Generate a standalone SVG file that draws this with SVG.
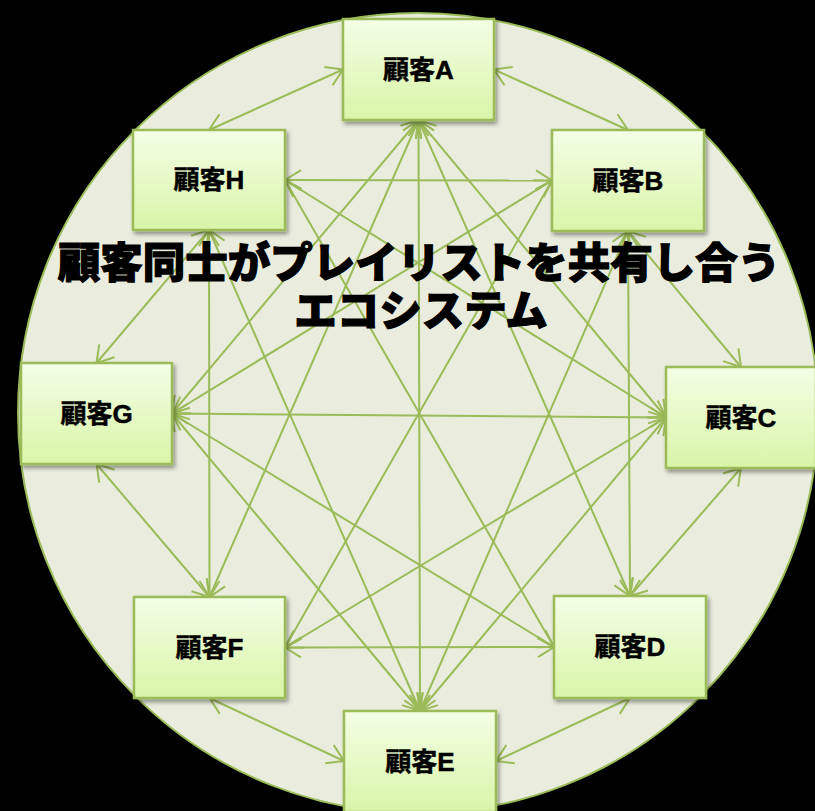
<svg xmlns="http://www.w3.org/2000/svg" width="815" height="811" viewBox="0 0 815 811">
<defs>
<linearGradient id="boxGrad" x1="0" y1="0" x2="0" y2="1">
<stop offset="0" stop-color="#f4fee6"/>
<stop offset="1" stop-color="#d8f5a7"/>
</linearGradient>
<filter id="shadow" x="-10%" y="-10%" width="130%" height="130%">
<feDropShadow dx="2" dy="3" stdDeviation="2" flood-color="#000" flood-opacity="0.4"/>
</filter>
<marker id="arr" viewBox="-18 -12 20 24" refX="0" refY="0" markerWidth="20" markerHeight="24" markerUnits="userSpaceOnUse" orient="auto-start-reverse">
<path d="M-16,-10 L0,0 L-16,10" fill="none" stroke="#9bbb59" stroke-width="2"/>
</marker>
</defs>
<style>
.bg{fill:#000}
.eco{fill:#eaedde;stroke:#9bbb59;stroke-width:2}
.box{fill:url(#boxGrad);stroke:#9bbb59;stroke-width:2.5;filter:url(#shadow)}
.lbl{font-family:"Liberation Sans","Noto Sans CJK JP",sans-serif;font-weight:bold;font-size:26px;fill:#000;stroke:#000;stroke-width:0.5;text-anchor:middle}
.title{font-family:"Noto Sans CJK JP",sans-serif;font-weight:900;font-size:42.5px;fill:#000;stroke:#000;stroke-width:1.2;text-anchor:middle}
#connectors line{stroke:#9bbb59;stroke-width:2;marker-start:url(#arr);marker-end:url(#arr)}
</style>
<rect class="bg" x="0" y="0" width="815" height="811"/>
<circle class="eco" cx="418" cy="413" r="400"/>
<g id="connectors">
<line x1="494" y1="69.5" x2="628" y2="130"/>
<line x1="343" y1="69.5" x2="209" y2="130"/>
<line x1="628" y1="231" x2="741" y2="367"/>
<line x1="209" y1="230" x2="96.5" y2="363"/>
<line x1="741" y1="468" x2="630" y2="596"/>
<line x1="96.5" y1="464" x2="209.5" y2="597"/>
<line x1="630" y1="698" x2="496" y2="761"/>
<line x1="209.5" y1="698" x2="344" y2="761"/>
<line x1="285" y1="180" x2="552" y2="180.5"/>
<line x1="285" y1="647.5" x2="554" y2="647"/>
<line x1="209" y1="230" x2="209.5" y2="597"/>
<line x1="628" y1="231" x2="630" y2="596"/>
<line x1="418.5" y1="120" x2="420" y2="711"/>
<line x1="172" y1="413.5" x2="666" y2="417.5"/>
<line x1="418.5" y1="120" x2="666" y2="417.5"/>
<line x1="418.5" y1="120" x2="172" y2="413.5"/>
<line x1="418.5" y1="120" x2="630" y2="596"/>
<line x1="418.5" y1="120" x2="209.5" y2="597"/>
<line x1="420" y1="711" x2="666" y2="417.5"/>
<line x1="420" y1="711" x2="172" y2="413.5"/>
<line x1="420" y1="711" x2="209" y2="230"/>
<line x1="420" y1="711" x2="628" y2="231"/>
<line x1="285" y1="180" x2="666" y2="417.5"/>
<line x1="285" y1="180" x2="554" y2="647"/>
<line x1="552" y1="180.5" x2="172" y2="413.5"/>
<line x1="552" y1="180.5" x2="285" y2="647.5"/>
<line x1="172" y1="413.5" x2="554" y2="647"/>
<line x1="666" y1="417.5" x2="285" y2="647.5"/>
</g>
<g id="nodeA"><rect class="box" x="343" y="19" width="151" height="101"/><text class="lbl" x="418.5" y="79">顧客A</text></g>
<g id="nodeB"><rect class="box" x="552" y="130" width="152" height="101"/><text class="lbl" x="628" y="190">顧客B</text></g>
<g id="nodeC"><rect class="box" x="666" y="367" width="150" height="101"/><text class="lbl" x="741" y="427">顧客C</text></g>
<g id="nodeD"><rect class="box" x="554" y="596" width="152" height="102"/><text class="lbl" x="630" y="656">顧客D</text></g>
<g id="nodeE"><rect class="box" x="344" y="711" width="152" height="101"/><text class="lbl" x="420" y="771">顧客E</text></g>
<g id="nodeF"><rect class="box" x="134" y="597" width="151" height="101"/><text class="lbl" x="209.5" y="657">顧客F</text></g>
<g id="nodeG"><rect class="box" x="21" y="363" width="151" height="101"/><text class="lbl" x="96.5" y="423">顧客G</text></g>
<g id="nodeH"><rect class="box" x="133" y="130" width="152" height="100"/><text class="lbl" x="209" y="189">顧客H</text></g>
<g id="title">
<text class="title" x="419" y="278">顧客同士がプレイリストを共有し合う</text>
<text class="title" x="421" y="326">エコシステム</text>
</g>
</svg>
